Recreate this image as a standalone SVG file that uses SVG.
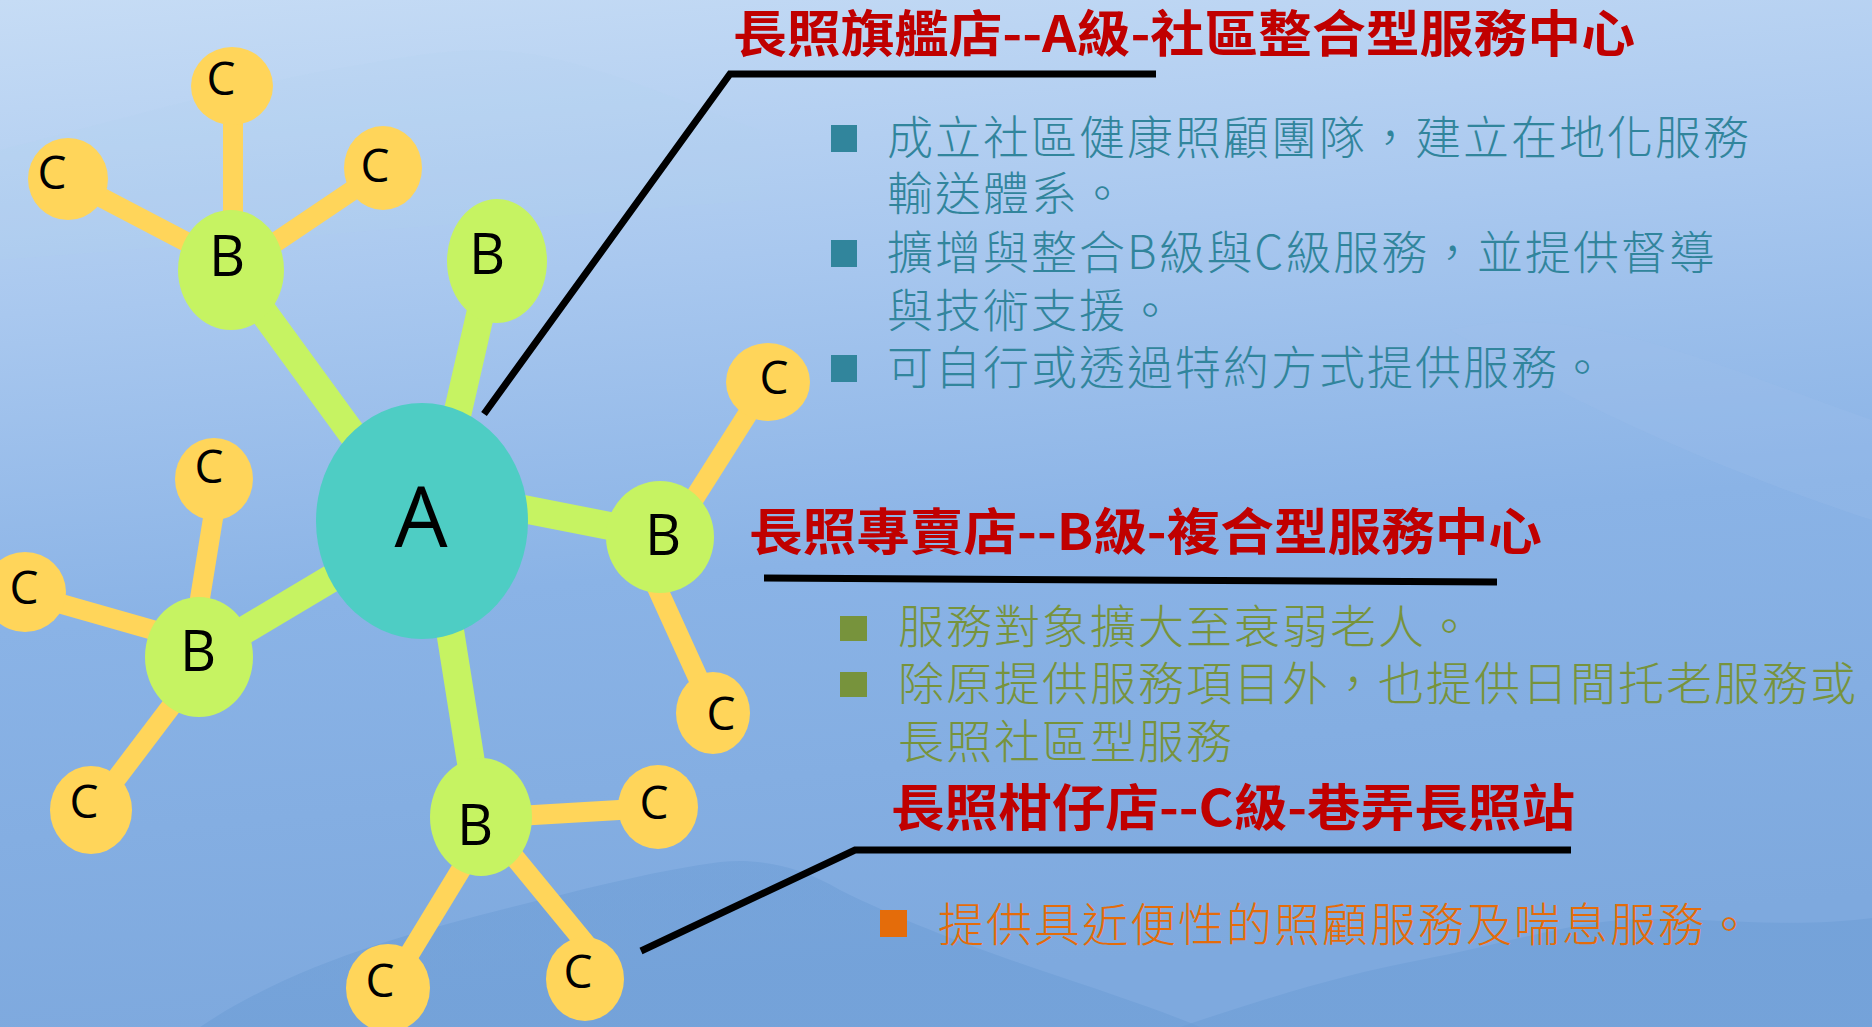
<svg xmlns="http://www.w3.org/2000/svg" width="1872" height="1027" viewBox="0 0 1872 1027">
<defs>
<linearGradient id="sky" x1="0" y1="0" x2="0.15" y2="1">
<stop offset="0" stop-color="#C6DCF5"/>
<stop offset="0.3" stop-color="#A9C8EF"/>
<stop offset="0.6" stop-color="#8AB3E6"/>
<stop offset="1" stop-color="#7EA9DE"/>
</linearGradient>
<linearGradient id="mtn" x1="0" y1="0" x2="0" y2="1">
<stop offset="0" stop-color="#6A9BD4" stop-opacity="0.45"/>
<stop offset="1" stop-color="#6E9ED6" stop-opacity="0.6"/>
</linearGradient>
<style>
.conn-ab{stroke:#C6F362;stroke-width:28;stroke-linecap:butt;fill:none}
.conn-bc{stroke:#FFD55A;stroke-width:20;stroke-linecap:butt;fill:none}
.leader{stroke:#000;stroke-width:7;fill:none;stroke-linejoin:miter}
.na{fill:#4ECDC4}
.nb{fill:#C6F362}
.nc{fill:#FFD55A}
.lbl{font-family:"Open Sans","DejaVu Sans",sans-serif;fill:#000;text-anchor:middle}
.title{font-family:"Noto Sans CJK TC","Noto Sans CJK SC",sans-serif;font-weight:700;fill:#C00000;font-size:50px}
.body{font-family:"Noto Sans CJK TC","Noto Sans CJK SC",sans-serif;font-weight:300;font-size:46px;letter-spacing:2px}
.teal{fill:#31859C}
.olive{fill:#77933C}
.orange{fill:#E46C0A}
</style>
</defs>

<g id="background">
<rect x="0" y="0" width="1872" height="1027" fill="url(#sky)"/>
<path d="M0 150 C120 120 220 90 330 70 C420 55 480 40 560 60 C640 80 700 110 760 130 L760 200 L0 260 Z" fill="#B4D0F1" opacity="0.18"/>
<path d="M1450 330 C1580 300 1700 360 1872 420 L1872 520 C1750 480 1600 420 1450 330 Z" fill="#9FC0EC" opacity="0.25"/>
<path d="M200 1027 C300 960 420 930 540 900 C600 885 660 870 720 862 C760 858 800 866 840 890 C900 920 980 950 1040 970 C1100 990 1160 1010 1200 1027 Z" fill="url(#mtn)"/>
<path d="M1180 1027 C1260 1000 1340 975 1420 960 C1500 945 1560 925 1620 920 C1700 915 1780 930 1872 918 L1872 1027 Z" fill="url(#mtn)"/>
</g>

<g id="connectors">
<line class="conn-bc" x1="233" y1="110" x2="233" y2="225"/>
<line class="conn-bc" x1="89" y1="191" x2="196" y2="247"/>
<line class="conn-bc" x1="365" y1="182" x2="270" y2="246"/>
<line class="conn-ab" x1="256" y1="302" x2="361" y2="446"/>
<line class="conn-ab" x1="483" y1="302" x2="455" y2="424"/>
<line class="conn-ab" x1="513" y1="507" x2="625" y2="529"/>
<line class="conn-bc" x1="754" y1="404" x2="690" y2="505"/>
<line class="conn-bc" x1="654" y1="581" x2="704" y2="691"/>
<line class="conn-ab" x1="342" y1="572" x2="233" y2="637"/>
<line class="conn-bc" x1="215" y1="506" x2="196" y2="623"/>
<line class="conn-bc" x1="51" y1="601" x2="167" y2="634"/>
<line class="conn-bc" x1="179" y1="696" x2="107" y2="791"/>
<line class="conn-ab" x1="448" y1="618" x2="473" y2="775"/>
<line class="conn-bc" x1="517" y1="816" x2="636" y2="809"/>
<line class="conn-bc" x1="468" y1="858" x2="404" y2="963"/>
<line class="conn-bc" x1="507" y1="848" x2="590" y2="949"/>
<polyline class="leader" points="484,414 730,74 1156,74"/>
<line class="leader" x1="764" y1="578" x2="1497" y2="582"/>
<polyline class="leader" points="641,951 855,850 1571,850"/>
</g>

<g id="node-A"><ellipse class="na" cx="422" cy="521" rx="106" ry="118"/><text class="lbl" x="421" y="547" font-size="84">A</text></g>

<g id="node-B1"><ellipse class="nb" cx="231" cy="270" rx="53" ry="60"/><text class="lbl" x="227" y="276" font-size="56">B</text></g>
<g id="node-B2"><ellipse class="nb" cx="497" cy="261" rx="50" ry="62"/><text class="lbl" x="487" y="274" font-size="56">B</text></g>
<g id="node-B3"><ellipse class="nb" cx="660" cy="537" rx="54" ry="56"/><text class="lbl" x="663" y="555" font-size="56">B</text></g>
<g id="node-B4"><ellipse class="nb" cx="199" cy="657" rx="54" ry="60"/><text class="lbl" x="198" y="671" font-size="56">B</text></g>
<g id="node-B5"><ellipse class="nb" cx="481" cy="817" rx="51" ry="59"/><text class="lbl" x="475" y="845" font-size="56">B</text></g>

<g id="node-C1"><ellipse class="nc" cx="232" cy="86" rx="41" ry="39"/><text class="lbl" x="221" y="95" font-size="46">C</text></g>
<g id="node-C2"><ellipse class="nc" cx="68" cy="179" rx="40" ry="41"/><text class="lbl" x="52" y="189" font-size="46">C</text></g>
<g id="node-C3"><ellipse class="nc" cx="383" cy="168" rx="39" ry="42"/><text class="lbl" x="375" y="182" font-size="46">C</text></g>
<g id="node-C4"><ellipse class="nc" cx="768" cy="382" rx="42" ry="39"/><text class="lbl" x="774" y="394" font-size="46">C</text></g>
<g id="node-C5"><ellipse class="nc" cx="214" cy="479" rx="39" ry="41"/><text class="lbl" x="209" y="483" font-size="46">C</text></g>
<g id="node-C6"><ellipse class="nc" cx="25" cy="592" rx="41" ry="40"/><text class="lbl" x="24" y="604" font-size="46">C</text></g>
<g id="node-C7"><ellipse class="nc" cx="91" cy="810" rx="41" ry="44"/><text class="lbl" x="84" y="818" font-size="46">C</text></g>
<g id="node-C8"><ellipse class="nc" cx="713" cy="713" rx="37" ry="41"/><text class="lbl" x="721" y="730" font-size="46">C</text></g>
<g id="node-C9"><ellipse class="nc" cx="658" cy="807" rx="40" ry="42"/><text class="lbl" x="654" y="819" font-size="46">C</text></g>
<g id="node-C10"><ellipse class="nc" cx="388" cy="988" rx="42" ry="44"/><text class="lbl" x="380" y="997" font-size="46">C</text></g>
<g id="node-C11"><ellipse class="nc" cx="585" cy="979" rx="39" ry="42"/><text class="lbl" x="578" y="988" font-size="46">C</text></g>

<g id="panel-A">
<text class="title" x="733" y="52" textLength="902" lengthAdjust="spacingAndGlyphs">長照旗艦店--A級-社區整合型服務中心</text>
<rect class="teal" x="831" y="125" width="26" height="27"/>
<text class="body teal" x="887" y="154">成立社區健康照顧團隊，建立在地化服務</text>
<text class="body teal" x="887" y="210">輸送體系。</text>
<rect class="teal" x="831" y="240" width="26" height="27"/>
<text class="body teal" x="887" y="269" textLength="830" lengthAdjust="spacingAndGlyphs">擴增與整合B級與C級服務，並提供督導</text>
<text class="body teal" x="887" y="327">與技術支援。</text>
<rect class="teal" x="831" y="355" width="26" height="27"/>
<text class="body teal" x="887" y="384">可自行或透過特約方式提供服務。</text>
</g>

<g id="panel-B">
<text class="title" x="749" y="550" textLength="793" lengthAdjust="spacingAndGlyphs">長照專賣店--B級-複合型服務中心</text>
<rect class="olive" x="840" y="616" width="27" height="25"/>
<text class="body olive" x="898" y="643">服務對象擴大至衰弱老人。</text>
<rect class="olive" x="840" y="672" width="27" height="25"/>
<text class="body olive" x="898" y="700">除原提供服務項目外，也提供日間托老服務或</text>
<text class="body olive" x="898" y="758">長照社區型服務</text>
</g>

<g id="panel-C">
<text class="title" x="891" y="826" textLength="684" lengthAdjust="spacingAndGlyphs">長照柑仔店--C級-巷弄長照站</text>
<rect class="orange" x="880" y="910" width="27" height="27"/>
<text class="body orange" x="938" y="941">提供具近便性的照顧服務及喘息服務。</text>
</g>
</svg>
